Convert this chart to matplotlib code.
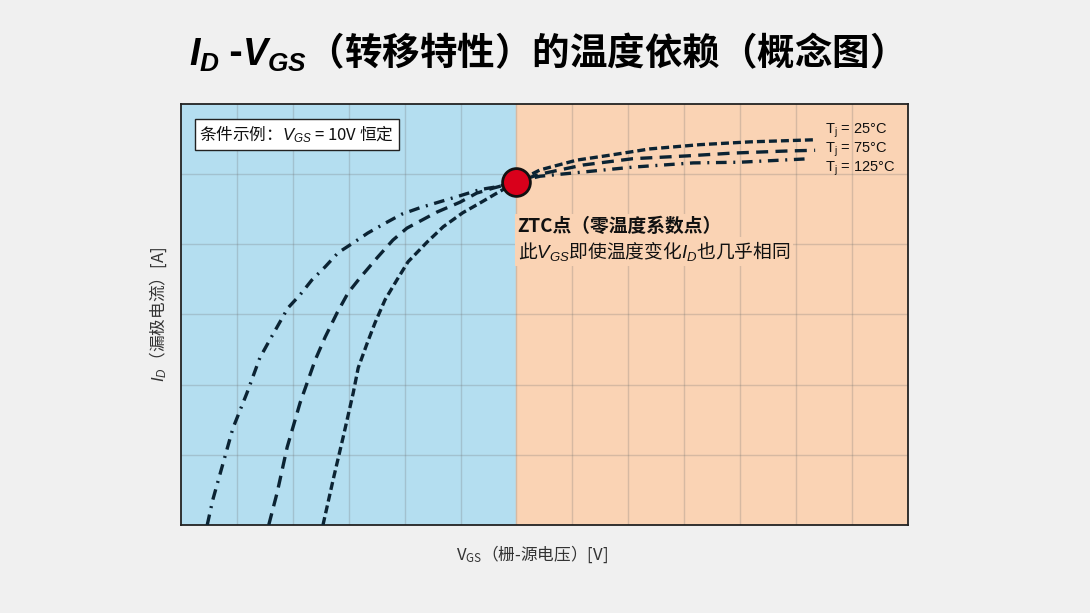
import matplotlib
matplotlib.use('Agg')
import matplotlib.pyplot as plt

plt.rcParams['font.family'] = ['Noto Sans CJK SC', 'DejaVu Sans']
plt.rcParams['mathtext.fontset'] = 'custom'
plt.rcParams['mathtext.it'] = 'Liberation Sans:italic'
plt.rcParams['mathtext.rm'] = 'Liberation Sans'
plt.rcParams['mathtext.bf'] = 'Liberation Sans:bold'
plt.rcParams['mathtext.bfit'] = 'Liberation Sans:italic:bold'

# grid units: x 0..13, y 0..6 (conceptual chart, no tick values)
ztc_x, ztc_y = 6.0, 4.89

vgs_25 = [2.54, 2.72, 2.90, 3.08, 3.17, 3.33, 3.47, 3.65, 3.86, 4.06, 4.40, 4.69,
          5.04, 5.35, 5.65, 6.0, 6.42, 7.08, 7.67, 8.39, 9.28, 10.18, 11.34]
id_25 = [0.0, 0.64, 1.25, 1.88, 2.24, 2.59, 2.88, 3.21, 3.49, 3.75, 4.03, 4.25,
         4.45, 4.59, 4.73, 4.89, 5.06, 5.20, 5.27, 5.36, 5.42, 5.46, 5.49]

vgs_75 = [1.57, 1.72, 1.90, 2.13, 2.40, 2.58, 2.79, 2.99, 3.20, 3.51, 3.79, 4.04,
          4.58, 4.99, 5.29, 5.58, 6.0, 6.42, 7.19, 8.08, 9.05, 9.87, 10.84, 11.34]
id_75 = [0.0, 0.46, 1.11, 1.74, 2.35, 2.68, 3.02, 3.31, 3.52, 3.81, 4.06, 4.23,
         4.46, 4.60, 4.73, 4.80, 4.89, 5.00, 5.13, 5.22, 5.26, 5.30, 5.33, 5.34]

vgs_125 = [0.47, 0.57, 0.75, 0.93, 1.18, 1.41, 1.59, 1.74, 1.91, 2.13, 2.34, 2.58,
           2.81, 3.08, 3.34, 3.65, 3.95, 4.27, 4.94, 5.35, 5.65, 6.0, 6.42, 7.19,
           8.08, 9.16, 10.0, 11.25]
id_125 = [0.0, 0.36, 0.87, 1.38, 1.88, 2.38, 2.64, 2.85, 3.09, 3.28, 3.49, 3.68,
          3.88, 4.02, 4.16, 4.30, 4.43, 4.52, 4.68, 4.78, 4.82, 4.89, 4.97, 5.03,
          5.10, 5.16, 5.17, 5.22]

labels = ['T$_\\mathregular{j}$ = 25°C', 'T$_\\mathregular{j}$ = 75°C',
          'T$_\\mathregular{j}$ = 125°C']

line_col = '#0B2333'
blue = '#B4DEF0'
peach = '#FAD3B4'

fig = plt.figure(figsize=(10.9, 6.13), dpi=100, facecolor='#F0F0F0')
ax = fig.add_axes([0.166, 0.1436, 0.667, 0.6868])

ax.axvspan(0, ztc_x, color=blue, zorder=0)
ax.axvspan(ztc_x, 13, color=peach, zorder=0)

ax.set_xlim(0, 13)
ax.set_ylim(0, 6)
ax.set_xticks(range(1, 13))
ax.set_yticks(range(1, 6))
ax.tick_params(length=0, labelbottom=False, labelleft=False)
ax.grid(True, color='#6E6E6E', alpha=0.25, linewidth=1)
ax.set_axisbelow(True)
for sp in ax.spines.values():
    sp.set_color('#222222')
    sp.set_linewidth(1.3)

lw = 2.4
ax.plot(vgs_25, id_25, color=line_col, lw=lw, ls=(0, (2.4, 1.2)), zorder=3)
ax.plot(vgs_75, id_75, color=line_col, lw=lw, ls=(0, (3.6, 2.2)), zorder=3)
ax.plot(vgs_125, id_125, color=line_col, lw=lw, ls=(0, (3.2, 2.0, 0.6, 2.0)), zorder=3)

ax.plot([ztc_x], [ztc_y], 'o', ms=20, mfc='#D9001B', mec='#111111', mew=2, zorder=5)

for lab, y in zip(labels, [5.62, 5.35, 5.08]):
    ax.text(11.52, y, lab, fontsize=10.5, family=['Liberation Sans', 'DejaVu Sans'],
            va='center', ha='left', color='#111111', zorder=4)

ax.text(6.02, 4.26, 'ZTC点（零温度系数点）', fontsize=13.5, fontweight='bold',
        va='center', ha='left', color='#111111', zorder=4,
        bbox=dict(facecolor=peach, edgecolor='none', pad=2))
ax.text(6.02, 3.9, '此$V_{GS}$即使温度变化$I_D$也几乎相同', fontsize=13.5,
        va='center', ha='left', color='#111111', zorder=4,
        bbox=dict(facecolor=peach, edgecolor='none', pad=2))

ax.text(0.33, 5.565, '条件示例：$V_{GS}$ = 10V 恒定', fontsize=12, va='center',
        ha='left', color='#111111', zorder=4,
        bbox=dict(facecolor='white', edgecolor='#222222', linewidth=1, pad=3.5))

ax.set_xlabel('V$_\\mathregular{GS}$（栅-源电压）[V]', fontsize=12, color='#333333')
ax.xaxis.set_label_coords(0.483, -0.045)
ax.set_ylabel('$I_D$（漏极电流）[A]', fontsize=12, color='#333333')
ax.yaxis.set_label_coords(-0.016, 0.5)

fig.text(0.492, 0.915, '$\\mathbfit{I_D}$ -$\\mathbfit{V_{GS}}$（转移特性）的温度依赖（概念图）',
         fontsize=27, fontweight='bold', ha='center', va='center', color='#000000')

fig.savefig('out.png', dpi=100, facecolor=fig.get_facecolor())
